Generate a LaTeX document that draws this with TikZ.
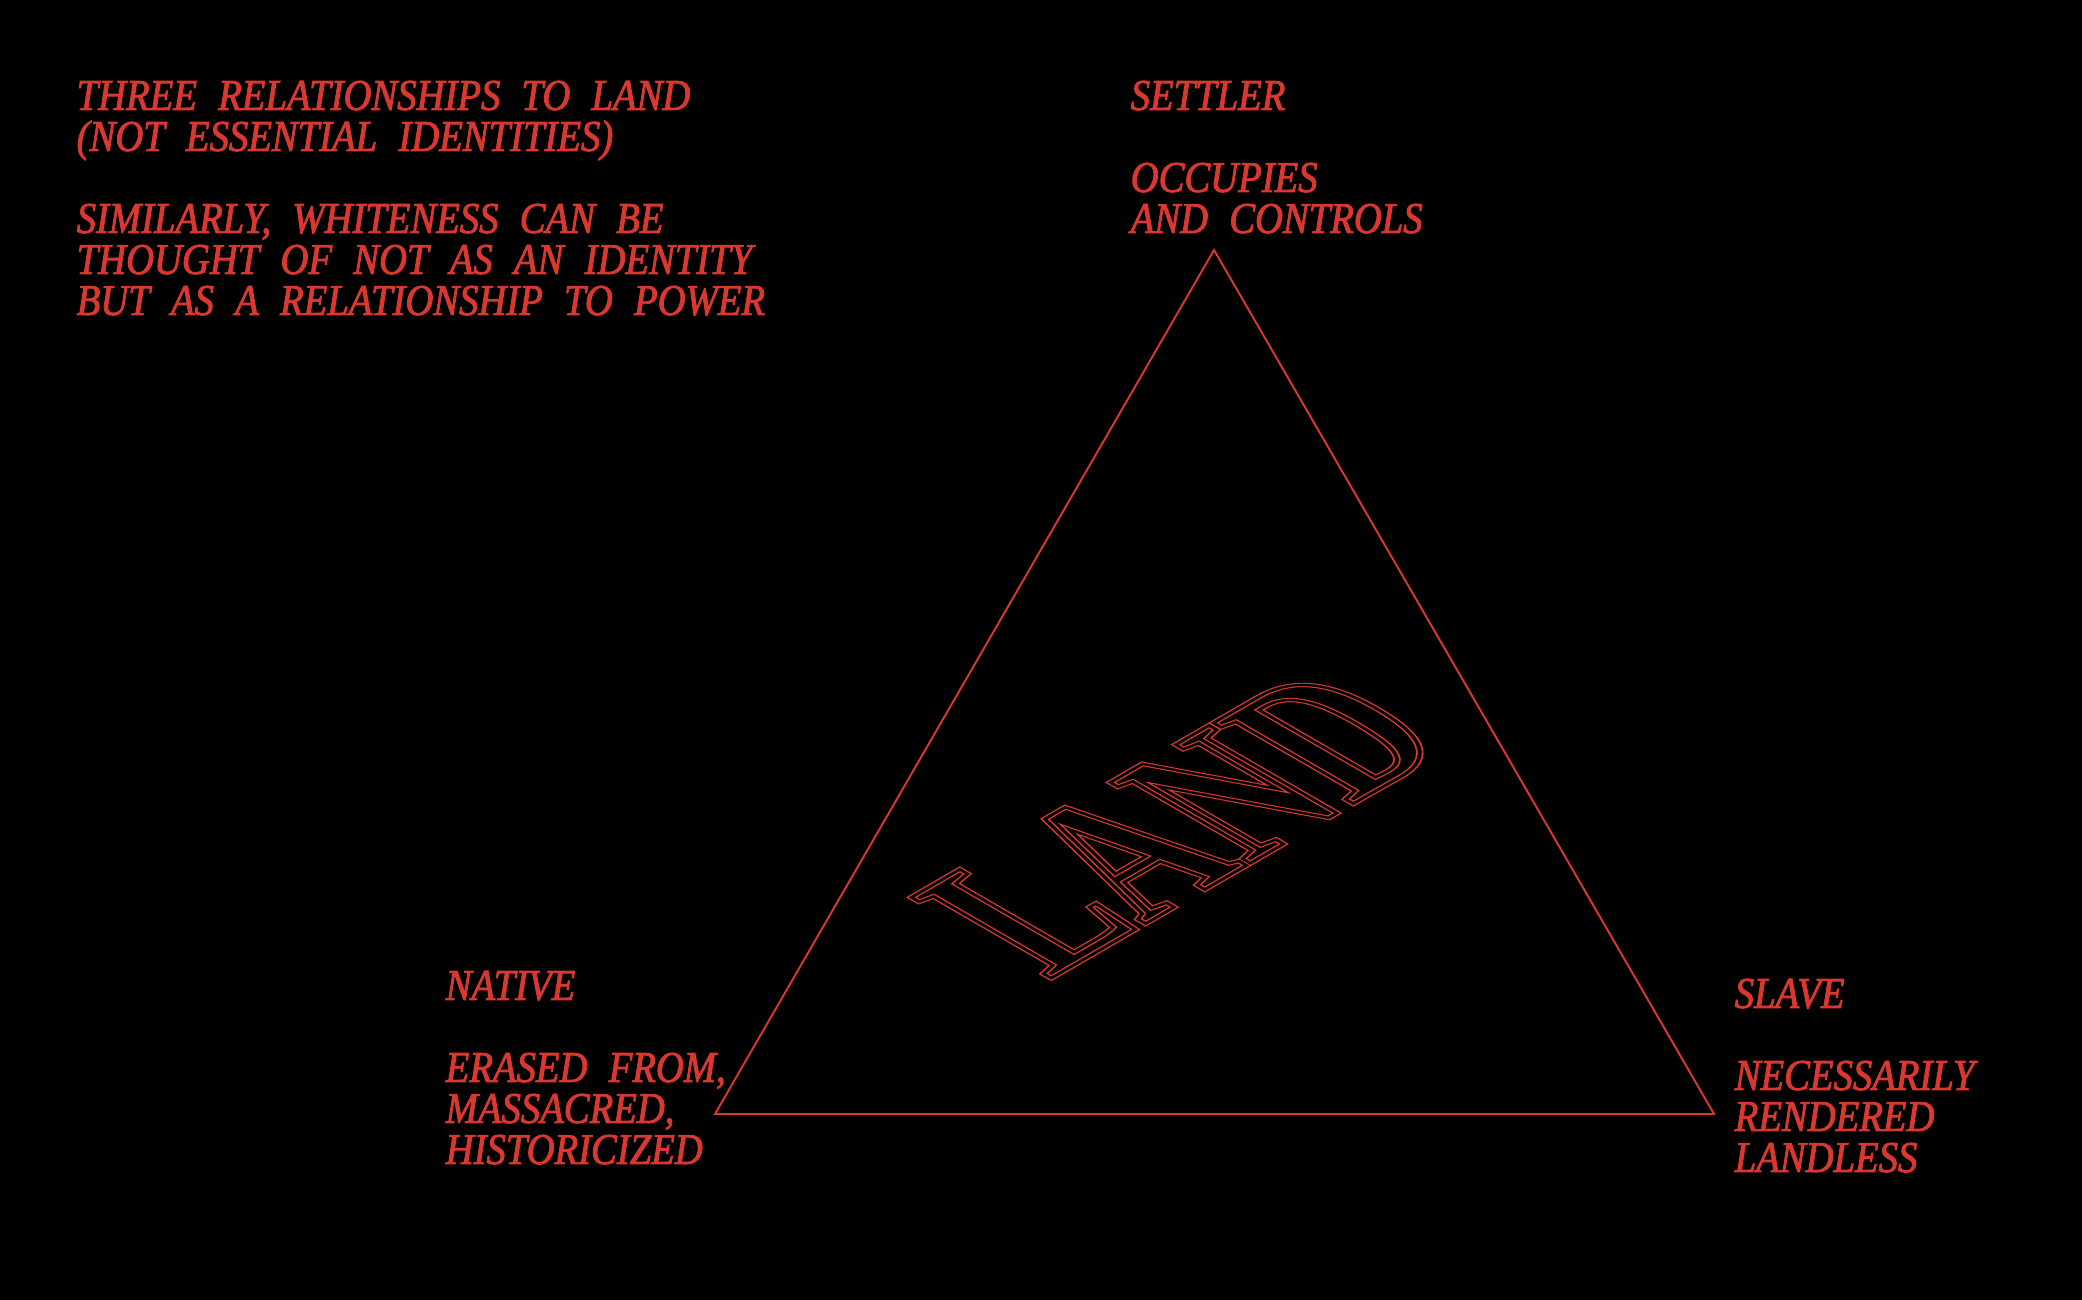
\documentclass[tikz,border=0pt]{standalone}
\usepackage{fontspec}
\newfontfamily\labelfont{Liberation Serif}[FakeStretch=0.88, WordSpace=2.2]
\newfontfamily\landfont{Liberation Serif}[FakeStretch=0.67]
\definecolor{landred}{RGB}{217,56,48}
% fill and stroke the glyphs a little (text render mode 2)
\newcommand{\inkup}{\special{pdf:literal direct 2 Tr 0.25 w}}
% stroke the glyph outlines only (text render mode 1)
\newcommand{\strokedtext}[2]{\special{pdf:literal direct 1 Tr #1 w}#2\special{pdf:literal direct 0 Tr}}

\begin{document}
\begin{tikzpicture}[
  caption/.style={anchor=base west, inner sep=0pt, align=left, text=landred, font=\labelfont\itshape\fontsize{12.5}{11.67}\selectfont},
  edge/.style={draw=landred, line width=0.55pt, line join=miter},
  landword/.style={anchor=base west, inner sep=0pt, transform shape, font=\landfont\bfseries\fontsize{60}{60}\selectfont}
]
\fill[black] (0,0) rectangle (20.82,13);
\useasboundingbox (0,0) rectangle (20.82,13);

% corners of the triangle
\coordinate (settlerpt) at (12.14,10.50);
\coordinate (nativept) at (7.15,1.86);
\coordinate (slavept) at (17.14,1.86);
\draw[edge] (settlerpt) -- (nativept) -- (slavept) -- cycle;

% the base anchor sits on the last line
\node[caption] (title) at (0.76,9.85) {\inkup THREE RELATIONSHIPS TO LAND\\(NOT ESSENTIAL IDENTITIES)\\[11.67pt]SIMILARLY, WHITENESS CAN BE\\THOUGHT OF NOT AS AN IDENTITY\\BUT AS A RELATIONSHIP TO POWER};

\node[caption] (settler) at (11.30,10.67) {\inkup SETTLER\\[11.67pt]OCCUPIES\\AND CONTROLS};
\node[caption] (native) at (4.45,1.36) {\inkup NATIVE\\[11.67pt]ERASED FROM,\\MASSACRED,\\HISTORICIZED};
\node[caption] (slave) at (17.34,1.28) {\inkup SLAVE\\[11.67pt]NECESSARILY\\RENDERED\\LANDLESS};

% the word lying flat inside the triangle
\begin{scope}[shift={(10.48,3.20)}, cm={1.013,0.585,-1.013,0.585,(0,0)}]
  \node[landword, text=landred] (landrim) at (0,0) {\strokedtext{1.5}{LAND}};
  \node[landword, text=black] (landcore) at (0,0) {\strokedtext{0.75}{LAND}};
\end{scope}

\end{tikzpicture}
\end{document}
